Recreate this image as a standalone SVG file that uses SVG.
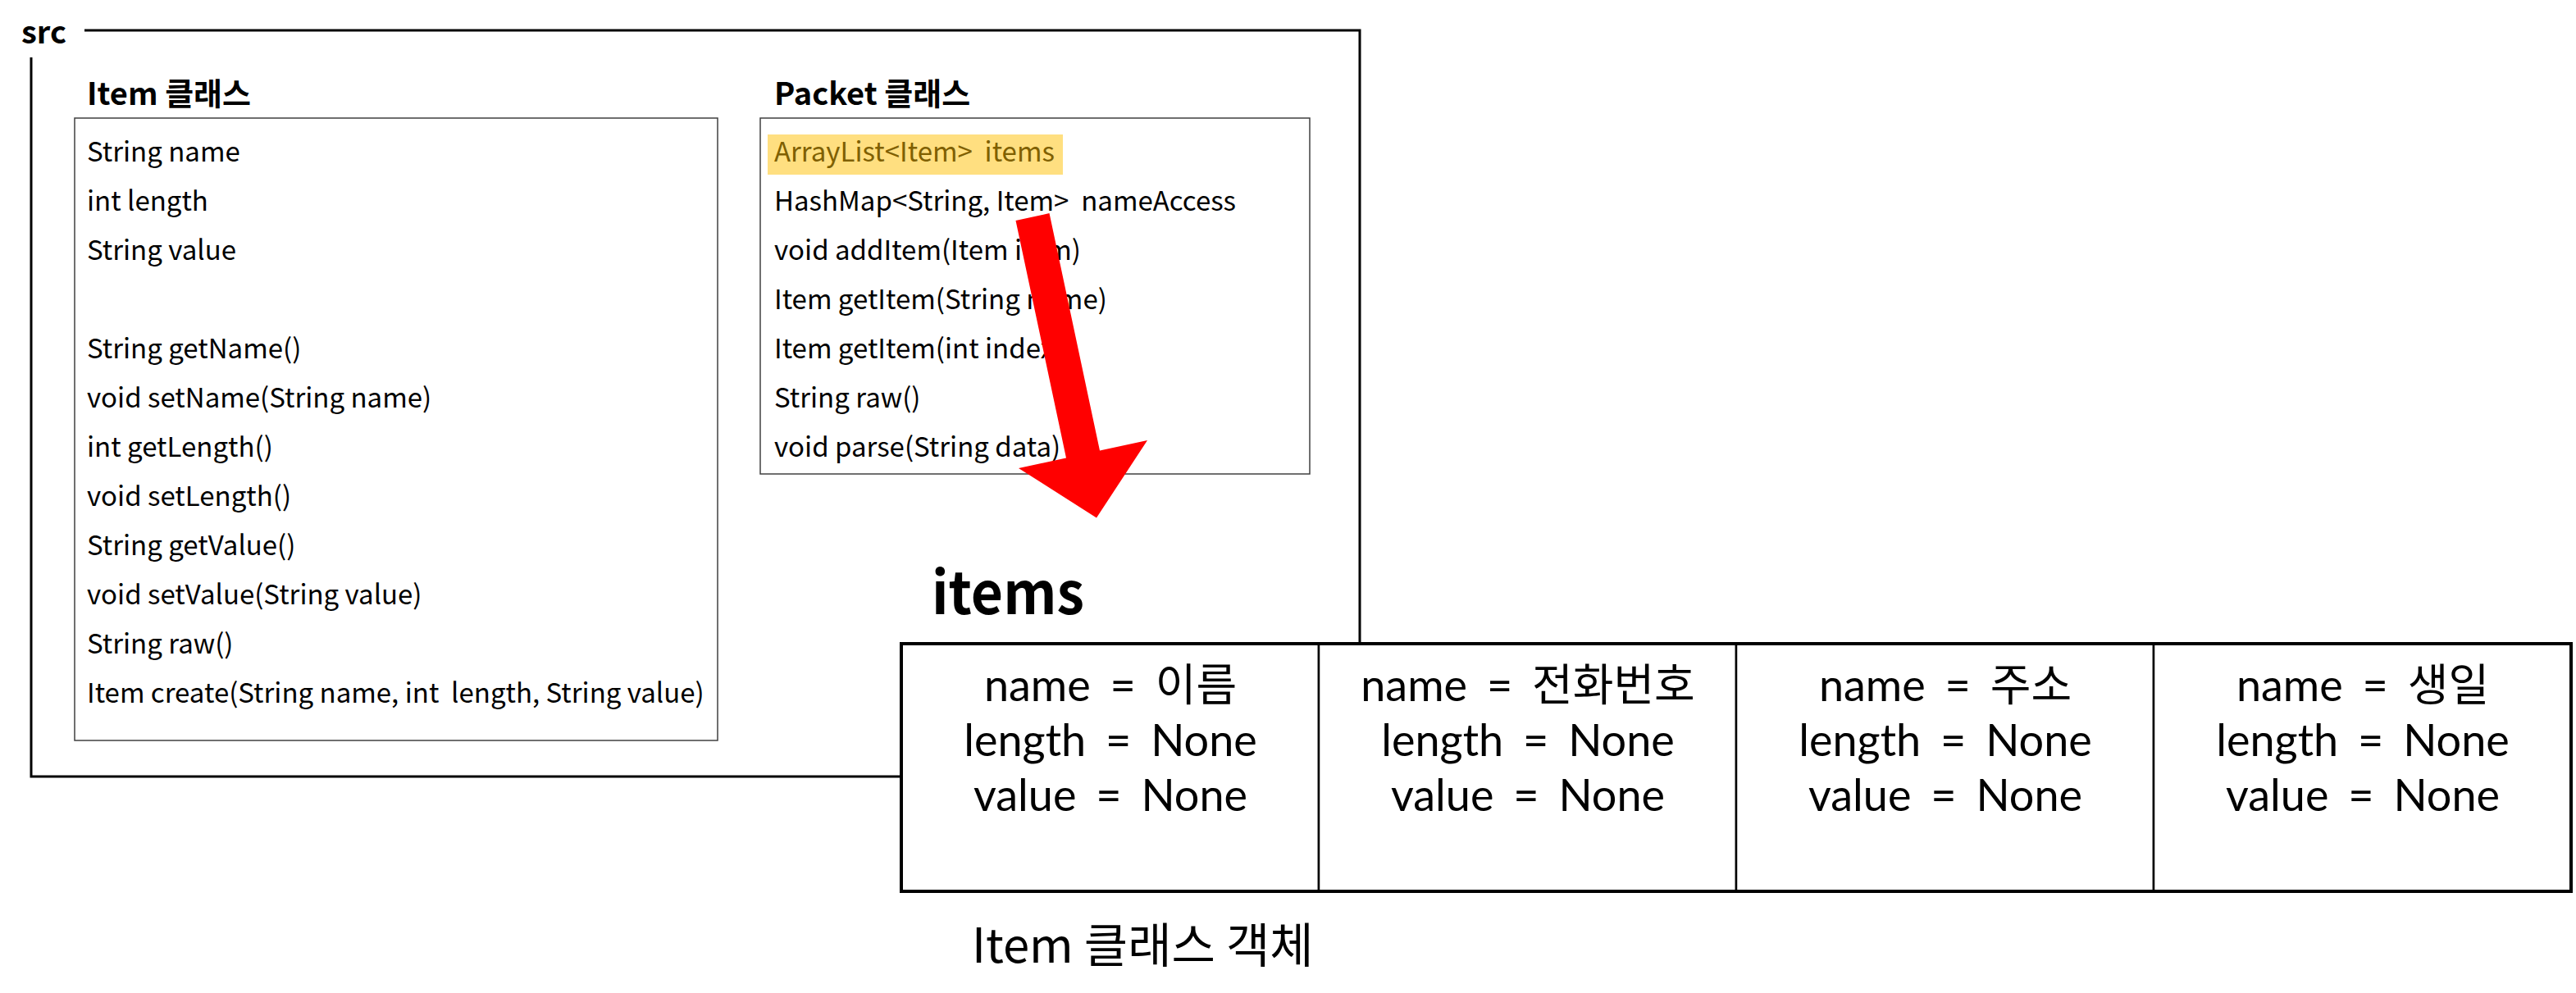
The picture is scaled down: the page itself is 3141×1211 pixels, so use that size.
<svg xmlns="http://www.w3.org/2000/svg" width="3141" height="1211" viewBox="0 0 3141 1211">
<style>
text{font-family:"Noto Sans CJK KR","Noto Sans",sans-serif;fill:#000}
.ttl{font-weight:bold;font-size:38px}
.ln{font-size:33px}
.cell{font-family:Lato,"Noto Sans CJK KR",sans-serif;font-size:54px;text-anchor:middle;word-spacing:10px}
.box{fill:#fff;stroke:#404040;stroke-width:1.5}
.tcell{fill:#fff;stroke:#000;stroke-width:2.5}
</style>
<rect width="3141" height="1211" fill="#fff"/>
<g id="src">
<path d="M103,37 H1658 V947 H38 V70" fill="none" stroke="#000" stroke-width="3"/>
<text x="26" y="53" class="ttl">src</text>
</g>
<g id="item-class">
<text x="106" y="128" class="ttl">Item 클래스</text>
<rect x="91" y="144" width="784" height="759" class="box"/>
<text x="106" y="197" class="ln">String name</text>
<text x="106" y="257" class="ln">int length</text>
<text x="106" y="317" class="ln">String value</text>
<text x="106" y="437" class="ln">String getName()</text>
<text x="106" y="497" class="ln">void setName(String name)</text>
<text x="106" y="557" class="ln">int getLength()</text>
<text x="106" y="617" class="ln">void setLength()</text>
<text x="106" y="677" class="ln">String getValue()</text>
<text x="106" y="737" class="ln">void setValue(String value)</text>
<text x="106" y="797" class="ln">String raw()</text>
<text x="106" y="857" class="ln" xml:space="preserve">Item create(String name, int  length, String value)</text>
</g>
<g id="packet-class">
<text x="944" y="128" class="ttl">Packet 클래스</text>
<rect x="927" y="144" width="670" height="434" class="box"/>
<rect x="936" y="164" width="360" height="49" fill="#FFDF80"/>
<text x="944" y="197" class="ln" style="fill:#7F6000" xml:space="preserve">ArrayList&lt;Item&gt;  items</text>
<text x="944" y="257" class="ln" xml:space="preserve">HashMap&lt;String, Item&gt;  nameAccess</text>
<text x="944" y="317" class="ln">void addItem(Item item)</text>
<text x="944" y="377" class="ln">Item getItem(String name)</text>
<text x="944" y="437" class="ln">Item getItem(int index)</text>
<text x="944" y="497" class="ln">String raw()</text>
<text x="944" y="557" class="ln">void parse(String data)</text>
</g>
<g id="items-array">
<text x="1136" y="749" style="font-weight:bold;font-size:72px" textLength="186" lengthAdjust="spacingAndGlyphs">items</text>
<rect x="1099" y="785" width="509" height="302" class="tcell"/>
<rect x="1608" y="785" width="509" height="302" class="tcell"/>
<rect x="2117" y="785" width="509" height="302" class="tcell"/>
<rect x="2626" y="785" width="509" height="302" class="tcell"/>
<rect x="1099" y="785" width="2036" height="302" fill="none" stroke="#000" stroke-width="4"/>
<g id="item-1">
<text class="cell"><tspan x="1354" y="855">name = 이름</tspan><tspan x="1354" y="922">length = None</tspan><tspan x="1354" y="989">value = None</tspan></text>
</g>
<g id="item-2">
<text class="cell"><tspan x="1863" y="855">name = 전화번호</tspan><tspan x="1863" y="922">length = None</tspan><tspan x="1863" y="989">value = None</tspan></text>
</g>
<g id="item-3">
<text class="cell"><tspan x="2372" y="855">name = 주소</tspan><tspan x="2372" y="922">length = None</tspan><tspan x="2372" y="989">value = None</tspan></text>
</g>
<g id="item-4">
<text class="cell"><tspan x="2881" y="855">name = 생일</tspan><tspan x="2881" y="922">length = None</tspan><tspan x="2881" y="989">value = None</tspan></text>
</g>
<text x="1185" y="1174" style="font-size:58px">Item 클래스 객체</text>
</g>
<g id="connectors">
<polygon points="1238.5,268.9 1279.5,260.1 1341,549.6 1399,537 1337,631.5 1242,571 1300,558.4" fill="#FF0000"/>
</g>
</svg>
